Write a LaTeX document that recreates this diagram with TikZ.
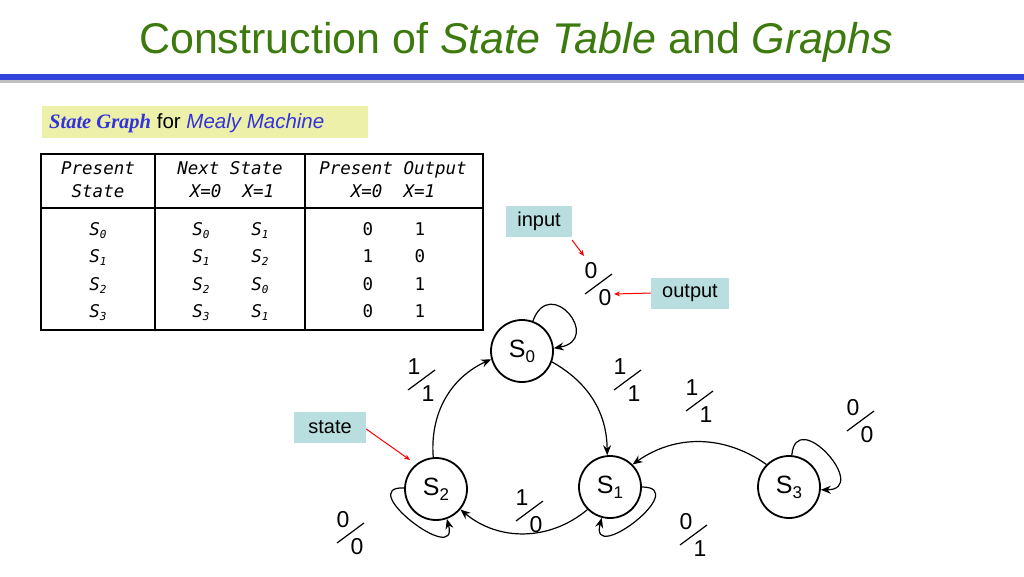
\documentclass[tikz,border=0pt]{standalone}
\usepackage{fontspec}
\setmainfont{Liberation Sans}
\newfontfamily\monoit{DejaVu Sans Mono}[ItalicFont={DejaVu Sans Mono Oblique}]
\newfontfamily\serifb{Liberation Serif}
\usetikzlibrary{arrows.meta}
\definecolor{ttl}{HTML}{3C7A0E}
\definecolor{bar}{HTML}{3344DD}
\definecolor{subbg}{HTML}{EDF0A8}
\definecolor{lblbg}{HTML}{B9DEE0}
\definecolor{blu}{HTML}{3333DD}
\newcommand\stlab[1]{S\raisebox{-5pt}{\fontsize{17}{17}\selectfont #1}}
\begin{document}
\begin{tikzpicture}[x=1pt,y=-1pt,
  st/.style={circle,draw,line width=1.8pt,minimum size=62pt,inner sep=0pt,font=\fontsize{25}{25}\selectfont},
  ed/.style={line width=1.2pt,-{Stealth[length=10pt,width=8pt]}},
  dg/.style={font=\fontsize{23}{23}\selectfont,inner sep=0pt},
  lbl/.style={fill=lblbg,font=\fontsize{20}{20}\selectfont,inner sep=0pt,minimum height=31pt},
  ra/.style={red,line width=1pt,-{Stealth[length=6pt,width=5pt]}},
  tt/.style={font=\monoit\itshape\fontsize{17.5}{17.5}\selectfont,inner sep=0pt,anchor=base},
  tr/.style={font=\monoit\fontsize{17.5}{17.5}\selectfont,inner sep=0pt,anchor=base}]
\useasboundingbox (0,0) rectangle (1024,576);
% title
\node[ttl,font=\fontsize{43}{43}\selectfont] (title) at (516,42) {Construction of \textit{State Table} and \textit{Graphs}};
\fill[gray!50] (0,79) rectangle (1024,83);
\fill[bar] (0,74) rectangle (1024,80);
% subtitle
\fill[subbg] (42,106) rectangle (368,138);
\node[anchor=west,font=\fontsize{20.5}{20.5}\selectfont,inner sep=0pt] (sub) at (49,123) {{\serifb\bfseries\itshape\color{blu}State Graph} for {\itshape\color{blu}Mealy Machine}};
% table
\draw[line width=1.8pt] (41,154) rectangle (483,330);
\draw[line width=1.2pt] (41,208) -- (483,208) (155,154) -- (155,330) (305,154) -- (305,330);
\node[tt] (h1) at (98,174) {Present};
\node[tt] (h2) at (98,197) {State};
\node[tt] (h3) at (230,174) {Next State};
\node[tt] (h4) at (232,197) {X=0\ \ X=1};
\node[tt] (h5) at (393,174) {Present Output};
\node[tt] (h6) at (393,197) {X=0\ \ X=1};
\foreach \y/\a/\b/\c/\o/\p [count=\i] in {235/0/0/1/0/1, 262/1/1/2/1/0, 290/2/2/0/0/1, 317/3/3/1/0/1}{
  \node[tt] (r\i a) at (98,\y) {S\raisebox{-3pt}{\fontsize{11}{11}\selectfont\a}};
  \node[tt] (r\i b) at (201,\y) {S\raisebox{-3pt}{\fontsize{11}{11}\selectfont\b}};
  \node[tt] (r\i c) at (260,\y) {S\raisebox{-3pt}{\fontsize{11}{11}\selectfont\c}};
  \node[tr] (r\i d) at (368,\y) {\o};
  \node[tr] (r\i e) at (420,\y) {\p};
}
% states
\node[st] (S0) at (522,351) {\stlab{0}};
\node[st] (S1) at (610,487) {\stlab{1}};
\node[st] (S2) at (436,489) {\stlab{2}};
\node[st] (S3) at (789,487) {\stlab{3}};
% edges
\draw[ed] (S2.95) to[bend left=35] (S0.195);
\draw[ed] (S0.-20) to[bend left=30] (S1.95);
\draw[ed] (S3.135) to[bend right=35] (S1.45);
\draw[ed] (S1.-135) to[bend left=40] (S2.-40);
\draw[ed] (S0.70) .. controls +(-70:50) and +(-10:50) .. (S0.5);
\draw[ed] (S2.178) .. controls +(-178:50) and +(75:50) .. (S2.-70);
\draw[ed] (S1.0) .. controls +(0:50) and +(105:50) .. (S1.-105);
\draw[ed] (S3.85) .. controls +(-85:50) and +(0:50) .. (S3.-5);
% fraction labels
\foreach \x/\y/\t/\b [count=\k] in {591/271/0/0, 620/367/1/1, 414/367/1/1, 692/388/1/1, 853/408/0/0, 343/520/0/0, 522/498/1/0, 686/522/0/1}{
  \node[dg] (ft\k) at (\x,\y) {\t};
  \node[dg] (fb\k) at (\x+14,\y+27) {\b};
  \draw[line width=1.2pt] (\x-6,\y+23) -- (\x+21,\y+3);
}
% annotations
\node[lbl,minimum width=66pt] (inp) at (539,221) {input};
\node[lbl,minimum width=78pt] (outp) at (690,293) {output};
\node[lbl,minimum width=72pt] (stt) at (330,427) {state};
\coordinate (ia) at (584,256);
\coordinate (oa) at (614,294);
\coordinate (sa) at (410,460);
\draw[ra] (572,240) -- (ia);
\draw[ra] (outp.west) -- (oa);
\draw[ra] (stt.east) ++(0,2) -- (sa);
\end{tikzpicture}
\end{document}
